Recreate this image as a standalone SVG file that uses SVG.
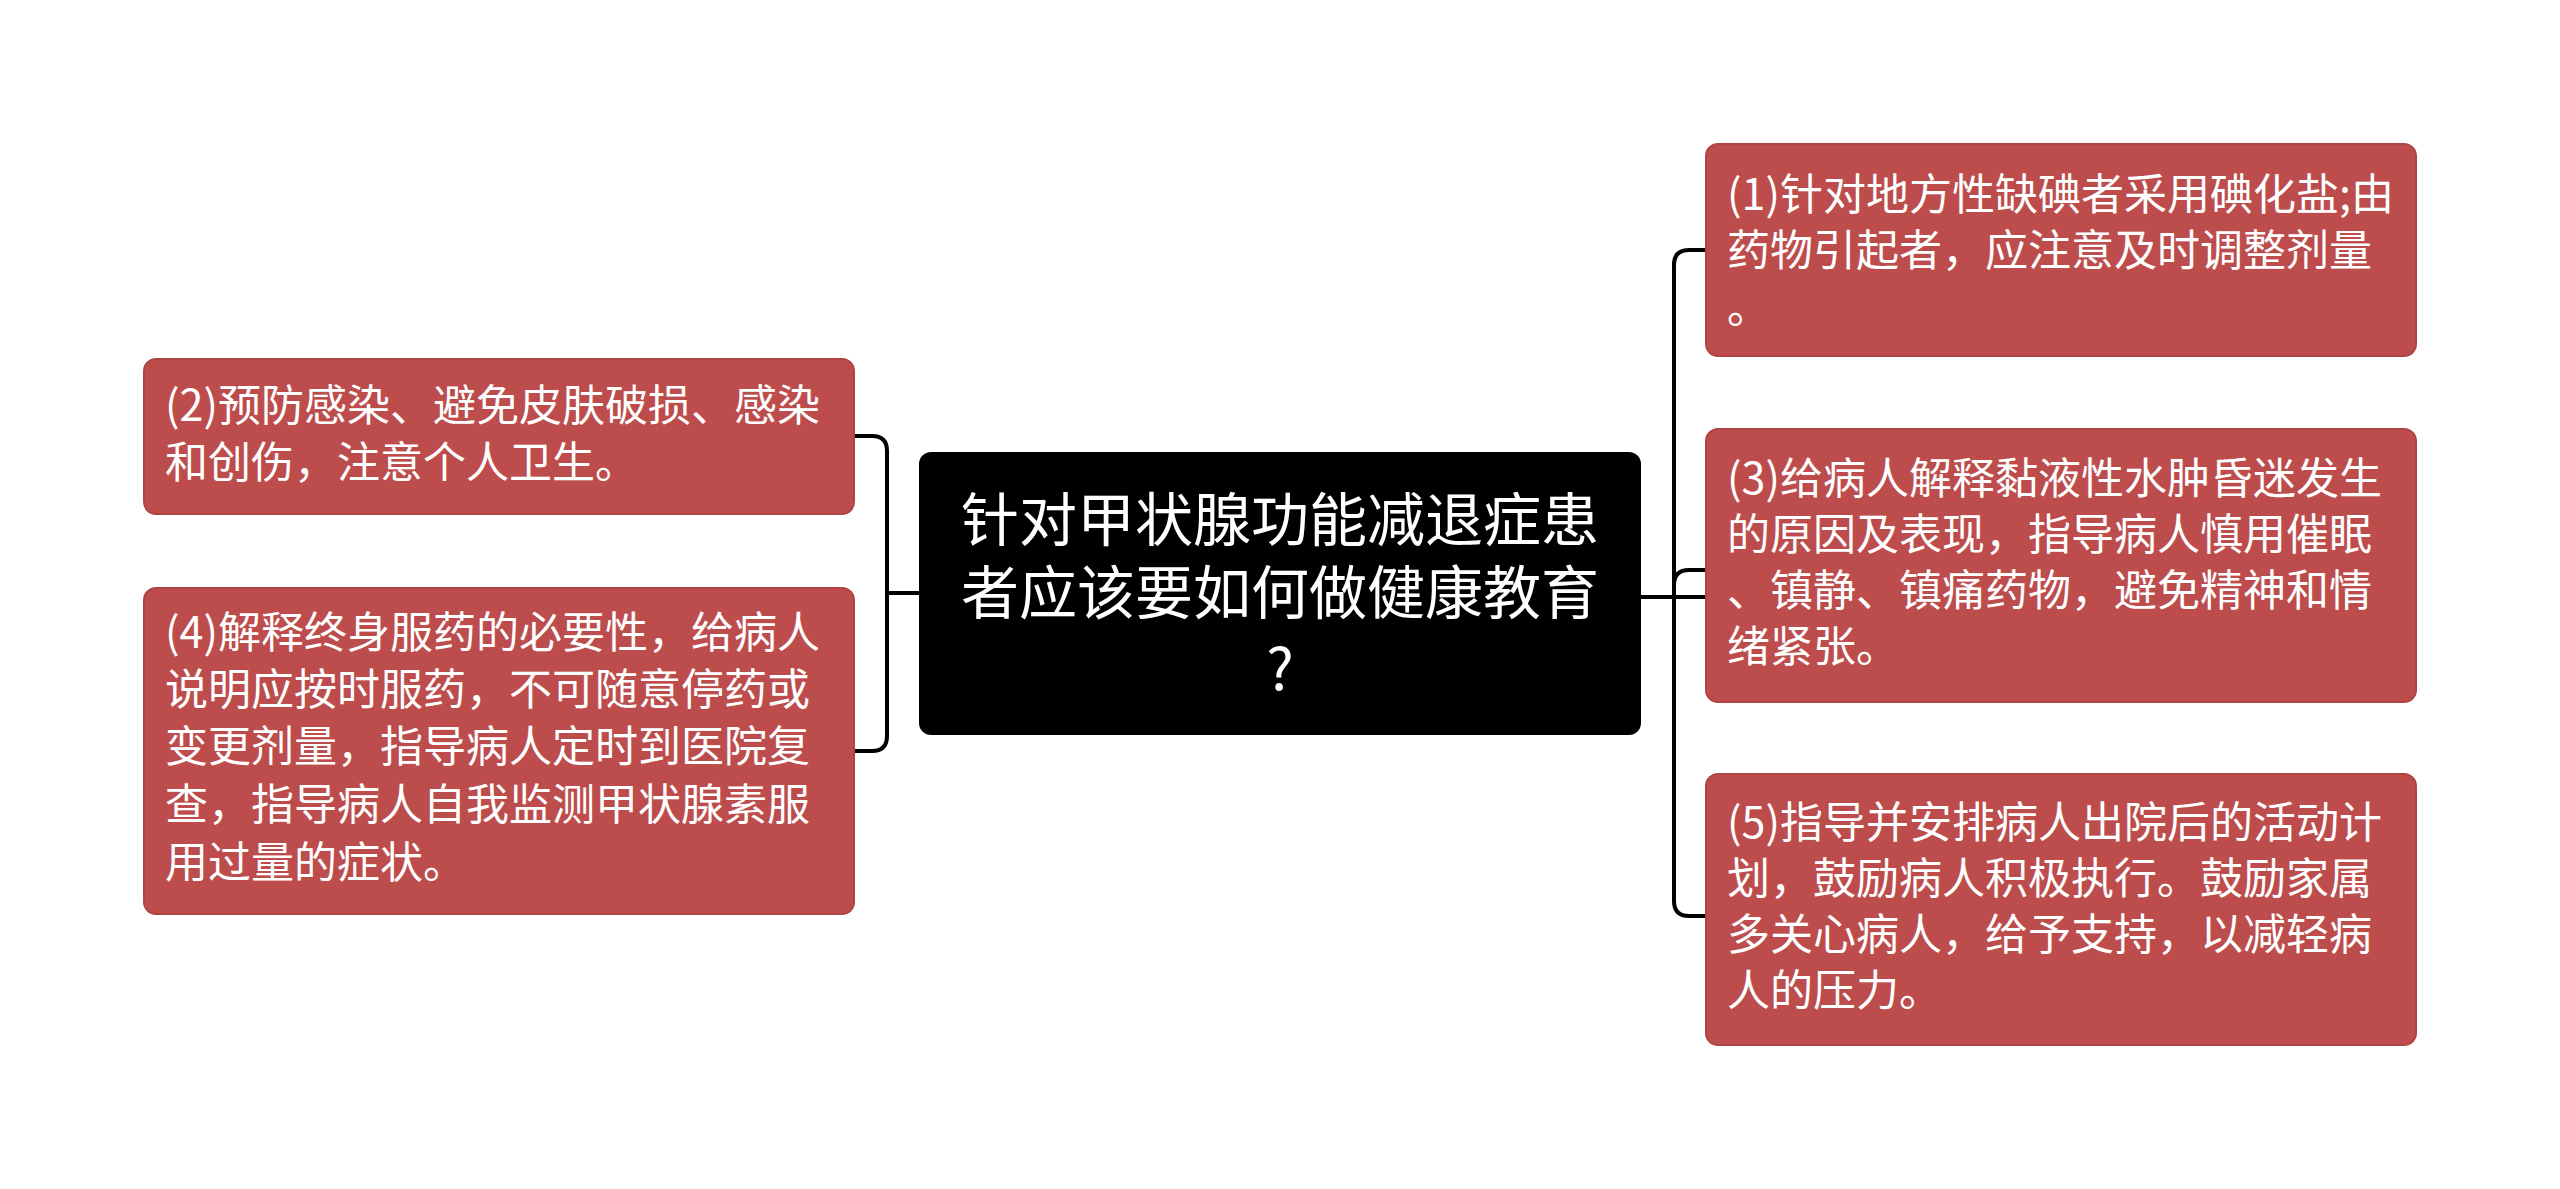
<svg xmlns="http://www.w3.org/2000/svg" width="2560" height="1189" viewBox="0 0 2560 1189">
<style>
.box{fill:#BD4D4D;stroke:#B04444;stroke-width:2}
.t{font-family:"Noto Sans CJK SC","Noto Sans",sans-serif;font-size:43px;fill:#fff}
.c{font-family:"Noto Sans CJK SC","Noto Sans",sans-serif;font-size:58px;fill:#fff;text-anchor:middle}
.ln{fill:none;stroke:#000;stroke-width:4}
</style>
<rect width="2560" height="1189" fill="#fff"/>
<g id="connectors">
<path class="ln" d="M919 593 H887 M854 436 H872 Q887 436 887 451 V736 Q887 751 872 751 H854"/>
<path class="ln" d="M1641 597 H1706 M1706 250 H1689 Q1674 250 1674 265 V901 Q1674 916 1689 916 H1706 M1674 585 Q1674 570 1689 570 H1706"/>
</g>
<g id="center">
<rect x="919" y="452" width="722" height="283" rx="12" fill="#000"/>
<text class="c" x="1280" y="541">针对甲状腺功能减退症患</text>
<text class="c" x="1280" y="614">者应该要如何做健康教育</text>
<text class="c" x="1280" y="690">?</text>
</g>
<g id="n2">
<rect class="box" x="144" y="359" width="710" height="155" rx="12"/>
<text class="t" x="165" y="421">(2)预防感染、避免皮肤破损、感染</text>
<text class="t" x="165" y="478">和创伤，注意个人卫生。</text>
</g>
<g id="n4">
<rect class="box" x="144" y="588" width="710" height="326" rx="12"/>
<text class="t" x="165" y="648">(4)解释终身服药的必要性，给病人</text>
<text class="t" x="165" y="705">说明应按时服药，不可随意停药或</text>
<text class="t" x="165" y="762">变更剂量，指导病人定时到医院复</text>
<text class="t" x="165" y="820">查，指导病人自我监测甲状腺素服</text>
<text class="t" x="165" y="878">用过量的症状。</text>
</g>
<g id="n1">
<rect class="box" x="1706" y="144" width="710" height="212" rx="12"/>
<text class="t" x="1727" y="210">(1)针对地方性缺碘者采用碘化盐;由</text>
<text class="t" x="1727" y="266">药物引起者，应注意及时调整剂量</text>
<text class="t" x="1727" y="323">。</text>
</g>
<g id="n3">
<rect class="box" x="1706" y="429" width="710" height="273" rx="12"/>
<text class="t" x="1727" y="494">(3)给病人解释黏液性水肿昏迷发生</text>
<text class="t" x="1727" y="550">的原因及表现，指导病人慎用催眠</text>
<text class="t" x="1727" y="606">、镇静、镇痛药物，避免精神和情</text>
<text class="t" x="1727" y="662">绪紧张。</text>
</g>
<g id="n5">
<rect class="box" x="1706" y="774" width="710" height="271" rx="12"/>
<text class="t" x="1727" y="838">(5)指导并安排病人出院后的活动计</text>
<text class="t" x="1727" y="894">划，鼓励病人积极执行。鼓励家属</text>
<text class="t" x="1727" y="950">多关心病人，给予支持，以减轻病</text>
<text class="t" x="1727" y="1006">人的压力。</text>
</g>
</svg>
